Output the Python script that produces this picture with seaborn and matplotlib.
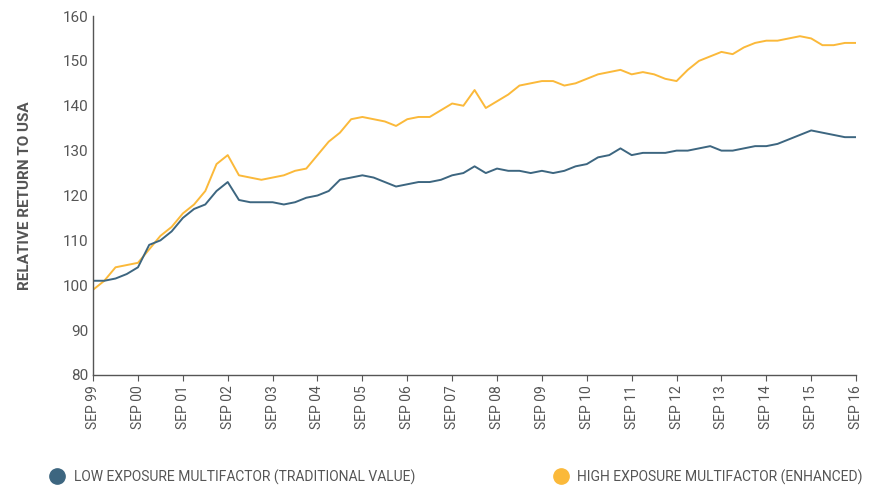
import matplotlib.pyplot as plt
from matplotlib.lines import Line2D
import numpy as np
import pandas as pd
import seaborn as sns

# quarterly readings, Sep 1999 .. Sep 2016
start_year = 1999.75
low_exposure = [101, 101, 101.5, 102.5, 104, 109, 110, 112, 115, 117, 118, 121, 123,
                119, 118.5, 118.5, 118.5, 118, 118.5, 119.5, 120, 121, 123.5, 124, 124.5,
                124, 123, 122, 122.5, 123, 123, 123.5, 124.5, 125, 126.5, 125, 126,
                125.5, 125.5, 125, 125.5, 125, 125.5, 126.5, 127, 128.5, 129, 130.5, 129,
                129.5, 129.5, 129.5, 130, 130, 130.5, 131, 130, 130, 130.5, 131, 131,
                131.5, 132.5, 133.5, 134.5, 134, 133.5, 133, 133]
high_exposure = [99, 101, 104, 104.5, 105, 108, 111, 113, 116, 118, 121, 127, 129,
                 124.5, 124, 123.5, 124, 124.5, 125.5, 126, 129, 132, 134, 137, 137.5,
                 137, 136.5, 135.5, 137, 137.5, 137.5, 139, 140.5, 140, 143.5, 139.5, 141,
                 142.5, 144.5, 145, 145.5, 145.5, 144.5, 145, 146, 147, 147.5, 148, 147,
                 147.5, 147, 146, 145.5, 148, 150, 151, 152, 151.5, 153, 154, 154.5,
                 154.5, 155, 155.5, 155, 153.5, 153.5, 154, 154]
tick_labels = [f"SEP {y % 100:02d}" for y in range(1999, 2017)]

BLUE = "#3d6680"
YELLOW = "#fbb93a"
GREY = "#555555"

df = pd.DataFrame({
    "t": start_year + 0.25 * np.arange(len(low_exposure)),
    "low": low_exposure,
    "high": high_exposure,
})

sns.set_theme(style="white")
plt.rcParams["font.family"] = ["Roboto", "DejaVu Sans"]

fig = plt.figure(figsize=(8.7, 5), dpi=100)
ax = fig.add_axes([0.107, 0.25, 0.877, 0.718])
sns.lineplot(data=df, x="t", y="high", color=YELLOW, linewidth=1.4, ax=ax)
sns.lineplot(data=df, x="t", y="low", color=BLUE, linewidth=1.4, ax=ax)

ax.set_xlim(1999.75, 2016.75)
ax.set_ylim(80, 160)
ax.set_xticks(1999.75 + np.arange(len(tick_labels)))
ax.set_xticklabels(tick_labels, rotation=90, fontsize=10, color=GREY)
ax.set_yticks(range(80, 161, 10))
ax.tick_params(axis="y", labelsize=11, colors=GREY)
ax.tick_params(axis="x", colors=GREY, length=4, width=0.8, direction="out", bottom=True)
ax.tick_params(axis="y", length=0)
ax.set_xlabel("")
ax.set_ylabel("RELATIVE RETURN TO USA", fontsize=11, fontweight="bold", color=GREY,
              labelpad=22)
for side in ["top", "right"]:
    ax.spines[side].set_visible(False)
for side in ["left", "bottom"]:
    ax.spines[side].set_color(GREY)
    ax.spines[side].set_linewidth(1)

handles = [
    Line2D([], [], marker="o", linestyle="", markersize=11, color=BLUE),
    Line2D([], [], marker="o", linestyle="", markersize=11, color=YELLOW),
]
fig.legend(handles, ["LOW EXPOSURE MULTIFACTOR (TRADITIONAL VALUE)",
                     "HIGH EXPOSURE MULTIFACTOR (ENHANCED)"],
           loc="center left", bbox_to_anchor=(0.035, 0.046), ncol=2, frameon=False,
           fontsize=10, labelcolor=GREY, handletextpad=0.2, columnspacing=9.5)

fig.savefig("out.png", dpi=100)
